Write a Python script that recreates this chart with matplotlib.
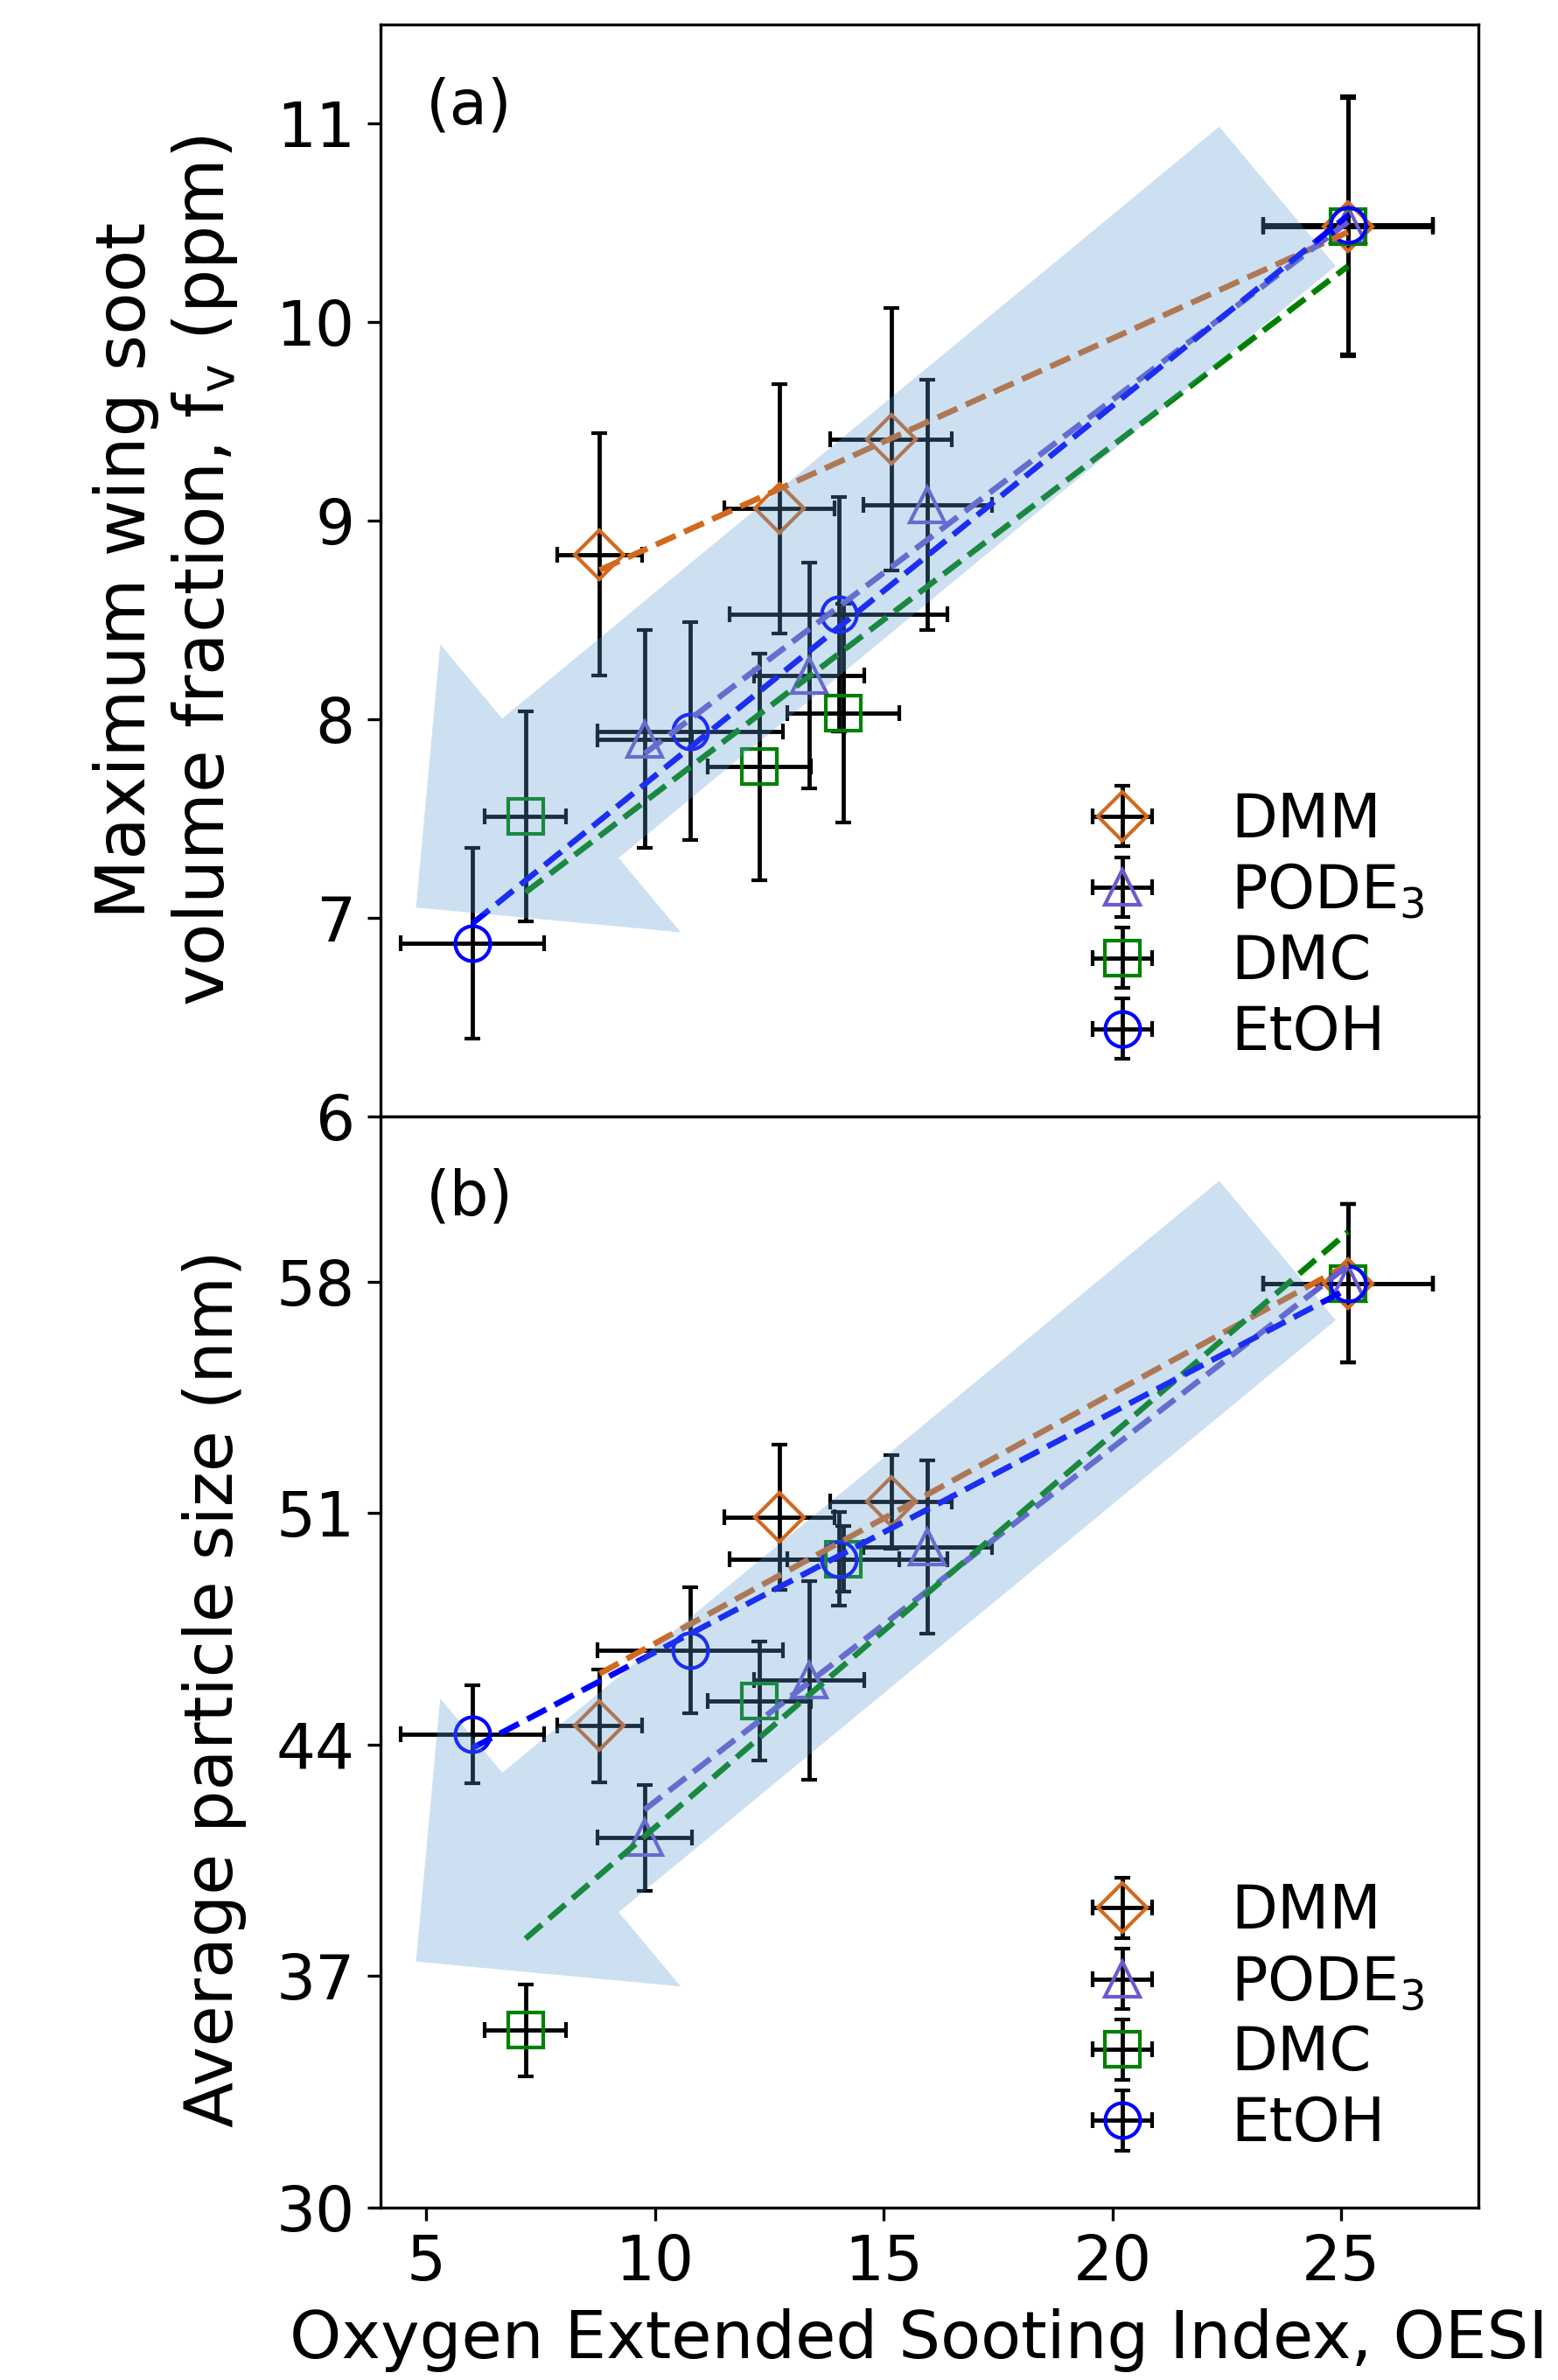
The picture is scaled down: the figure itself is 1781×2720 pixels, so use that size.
import numpy as np
import matplotlib.pyplot as plt
from matplotlib.patches import FancyArrow

# OESI (x) and its uncertainty, shared by both panels
dmm_oesi = [8.79, 12.72, 15.16, 25.15]
dmm_oesi_err = [0.92, 1.21, 1.32, 1.86]
pode_oesi = [9.77, 13.37, 15.96, 25.15]
pode_oesi_err = [1.03, 1.21, 1.40, 1.86]
dmc_oesi = [7.17, 12.28, 14.12, 25.15]
dmc_oesi_err = [0.89, 1.13, 1.22, 1.86]
etoh_oesi = [6.01, 10.77, 14.02, 25.15]
etoh_oesi_err = [1.56, 2.02, 2.38, 1.86]

# (a) maximum wing soot volume fraction, ppm
dmm_fv = [8.83, 9.06, 9.41, 10.48]
dmm_fv_err = [0.61, 0.63, 0.66, 0.65]
pode_fv = [7.90, 8.22, 9.08, 10.49]
pode_fv_err = [0.55, 0.57, 0.63, 0.65]
dmc_fv = [7.51, 7.76, 8.03, 10.48]
dmc_fv_err = [0.53, 0.57, 0.55, 0.65]
etoh_fv = [6.87, 7.94, 8.53, 10.49]
etoh_fv_err = [0.48, 0.55, 0.59, 0.65]

# (b) average particle size, nm
dmm_dp = [44.57, 50.88, 51.34, 57.94]
dmm_dp_err = [1.70, 2.20, 1.41, 2.39]
pode_dp = [41.19, 45.95, 49.97, 57.94]
pode_dp_err = [1.60, 3.00, 2.62, 2.39]
dmc_dp = [35.36, 45.32, 49.61, 57.94]
dmc_dp_err = [1.40, 1.80, 0.99, 2.39]
etoh_dp = [44.32, 46.86, 49.61, 57.94]
etoh_dp_err = [1.48, 1.90, 1.41, 2.39]

labels = ['DMM', 'PODE$_3$', 'DMC', 'EtOH']
colors = ['#D2691E', '#6A5ACD', '#008000', '#0000FF']
markers = ['D', '^', 's', 'o']

xs = [dmm_oesi, pode_oesi, dmc_oesi, etoh_oesi]
xerrs = [dmm_oesi_err, pode_oesi_err, dmc_oesi_err, etoh_oesi_err]
top_y = [dmm_fv, pode_fv, dmc_fv, etoh_fv]
top_err = [dmm_fv_err, pode_fv_err, dmc_fv_err, etoh_fv_err]
bot_y = [dmm_dp, pode_dp, dmc_dp, etoh_dp]
bot_err = [dmm_dp_err, pode_dp_err, dmc_dp_err, etoh_dp_err]

fig, (ax1, ax2) = plt.subplots(2, 1, sharex=True, figsize=(1781/300, 2720/300), dpi=300)
fig.subplots_adjust(left=0.2442, right=0.9489, top=0.9897, bottom=0.0724, hspace=0)


def draw_panel(ax, ys, yerrs, arrow_y0):
    for x, xe, y, ye, lab, c, m in zip(xs, xerrs, ys, yerrs, labels, colors, markers):
        ax.errorbar(x, y, xerr=xe, yerr=ye, fmt=m, ms=9.6, mfc='none', mec=c, mew=1.0,
                    ecolor='k', elinewidth=1.15, capsize=2.1, capthick=1.15, label=lab, zorder=3)
    # linear fits
    for x, y, c in zip(xs, ys, colors):
        p = np.polyfit(x, y, 1)
        xx = np.array([min(x), max(x)])
        ax.plot(xx, np.polyval(p, xx), '--', color=c, lw=1.6, zorder=4)
    arr = FancyArrow(0.817, arrow_y0, -0.7846, -0.6515, width=0.166, head_width=0.343,
                     head_length=0.171, length_includes_head=True, transform=ax.transAxes,
                     facecolor='#5b9bd5', alpha=0.3, lw=0, zorder=5)
    ax.add_patch(arr)
    ax.legend(loc='lower right', frameon=False, fontsize=16.5, labelspacing=0.2)
    ax.tick_params(labelsize=17)


draw_panel(ax1, top_y, top_err, 0.8426)
draw_panel(ax2, bot_y, bot_err, 0.8769)

ax1.set_ylim(6, 11.5)
ax1.set_yticks([6, 7, 8, 9, 10, 11])
ax2.set_ylim(30, 63)
ax2.set_yticks([30, 37, 44, 51, 58])
ax2.set_xlim(4, 28)
ax2.set_xticks([5, 10, 15, 20, 25])
ax1.tick_params(axis='x', bottom=False)

ax1.text(5, 11, '(a)', fontsize=17, va='baseline')
ax2.text(5, 60, '(b)', fontsize=17, va='baseline')

ax1.set_ylabel('Maximum wing soot\nvolume fraction, f$_\\mathrm{v}$ (ppm)', fontsize=19, labelpad=10)
ax2.set_ylabel('Average particle size (nm)', fontsize=18.3, labelpad=8)
ax2.yaxis.label.set_y(0.476)
ax2.set_xlabel('Oxygen Extended Sooting Index, OESI', fontsize=18.1)
ax2.xaxis.label.set_x(0.49)

fig.savefig('out.png', dpi=300)
